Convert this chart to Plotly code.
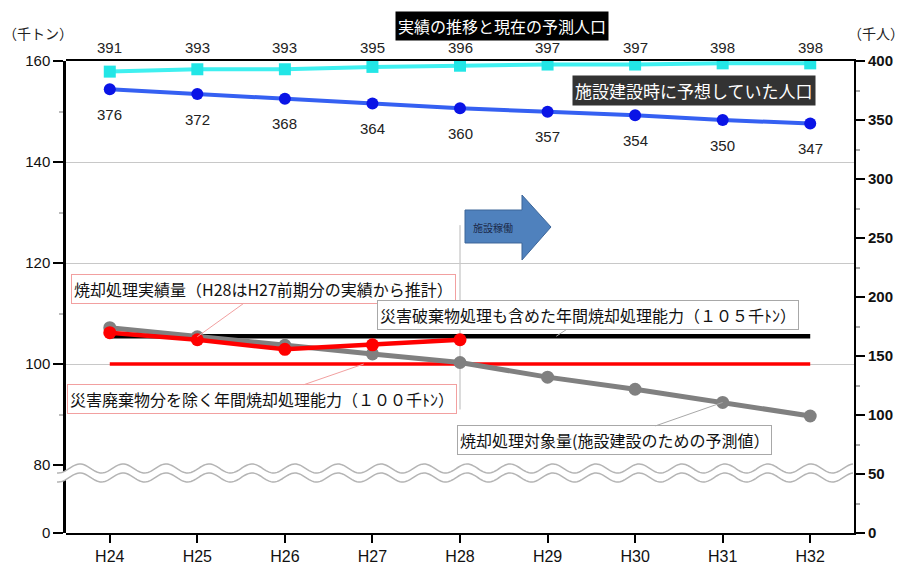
import numpy as np
import plotly.graph_objects as go

# ---------------- data ----------------
years = ["H24", "H25", "H26", "H27", "H28", "H29", "H30", "H31", "H32"]
pop_actual = [391, 393, 393, 395, 396, 397, 397, 398, 398]          # 千人 (right axis)
pop_planned = [376, 372, 368, 364, 360, 357, 354, 350, 347]         # 千人 (right axis)
incin_target = [107.2, 105.4, 103.7, 102.0, 100.3, 97.4, 95.0, 92.4, 89.7]   # 千トン
incin_actual_years = ["H24", "H25", "H26", "H27", "H28"]
incin_actual = [106.2, 104.8, 102.9, 103.8, 104.8]                  # 千トン
cap_with_disaster = [105.5, 105.5, 105.5, 105.5, 105.5, 105.5, 105.5, 105.5, 105.5]
cap_without = [100, 100, 100, 100, 100, 100, 100, 100, 100]

# ---------------- geometry helpers ----------------
W, H = 906, 567
L, R, T, B = 66, 52, 61, 34
PW, PH = W - L - R, H - T - B


def xp(px):
    return (px - L) / PW


def yp(py):
    return (H - B - py) / PH


brk = yp(465)  # paper position of the axis break (80 千トン)

JP = "Noto Sans CJK JP"
NUM = "Liberation Sans, Arial, Noto Sans CJK JP"

fig = go.Figure()

# population (right axis)
fig.add_trace(go.Scatter(x=years, y=pop_actual, yaxis="y", mode="lines+markers",
                         line=dict(color="#3ff0f0", width=4),
                         marker=dict(symbol="square", size=12, color="#22e6e6"),
                         showlegend=False))
fig.add_trace(go.Scatter(x=years, y=pop_planned, yaxis="y", mode="lines+markers",
                         line=dict(color="#3560f2", width=4),
                         marker=dict(symbol="circle", size=12, color="#0a14e6"),
                         showlegend=False))

# tonnage (left axis, upper segment)
fig.add_trace(go.Scatter(x=years, y=cap_with_disaster, yaxis="y2", mode="lines",
                         line=dict(color="#000000", width=4.5), showlegend=False))
fig.add_trace(go.Scatter(x=years, y=cap_without, yaxis="y2", mode="lines",
                         line=dict(color="#ff0000", width=3.5), showlegend=False))
fig.add_trace(go.Scatter(x=years, y=incin_target, yaxis="y2", mode="lines+markers",
                         line=dict(color="#808080", width=5),
                         marker=dict(symbol="circle", size=13, color="#808080"),
                         showlegend=False))
fig.add_trace(go.Scatter(x=incin_actual_years, y=incin_actual, yaxis="y2", mode="lines+markers",
                         line=dict(color="#ff0000", width=4.5),
                         marker=dict(symbol="circle", size=13, color="#ff0000"),
                         showlegend=False))
# lower (0-80) segment of the broken left axis
fig.add_trace(go.Scatter(x=[], y=[], yaxis="y3", showlegend=False))

annotations = []
# actual-population labels sit in a row above the plot area
for yr, v in zip(years, pop_actual):
    annotations.append(dict(x=yr, y=yp(48), xref="x", yref="paper", text=str(v), showarrow=False,
                            yanchor="middle", font=dict(family=NUM, size=15, color="#222")))
for yr, v in zip(years, pop_planned):
    annotations.append(dict(x=yr, y=v, xref="x", yref="y", text=str(v), showarrow=False,
                            yshift=-25, font=dict(family=NUM, size=15, color="#222")))

# callout boxes with leader lines
callouts = [
    ("焼却処理実績量（H28はH27前期分の実績から推計）", 1, 105.4, 1.761, 114.9, "#f2a0a0"),
    ("災害破棄物処理も含めた年間焼却処理能力（１０５千ﾄﾝ）", 5.1, 105.5, 5.462, 109.65, "#a8a8a8"),
    ("災害廃棄物分を除く年間焼却処理能力（１００千ﾄﾝ）", 2.9, 100.0, 1.738, 93.03, "#f2a0a0"),
    ("焼却処理対象量(施設建設のための予測値）", 7, 92.4, 5.759, 84.88, "#a8a8a8"),
]
for text, hx, hy, tx, ty, col in callouts:
    annotations.append(dict(x=hx, y=hy, xref="x", yref="y2", ax=tx, ay=ty, axref="x", ayref="y2",
                            text=text, showarrow=True, arrowhead=0, arrowwidth=1, arrowcolor=col,
                            bordercolor=col, borderwidth=1, borderpad=2, bgcolor="white",
                            font=dict(family=JP, size=16, color="#111")))

# titles
common = dict(xref="paper", yref="paper", showarrow=False, xanchor="center", yanchor="middle")
annotations.append(dict(x=xp(502), y=yp(26), text="実績の推移と現在の予測人口",
                        bgcolor="#000000", borderpad=2,
                        font=dict(family=JP, size=16, color="white"), **common))
annotations.append(dict(x=xp(694), y=yp(90.5), text="施設建設時に予想していた人口",
                        bgcolor="#333333", borderpad=2,
                        font=dict(family=JP, size=17, color="white"), **common))
annotations.append(dict(x=xp(38), y=yp(33), text="（千トン）",
                        font=dict(family=JP, size=14, color="#222"), **common))
annotations.append(dict(x=xp(876), y=yp(33), text="（千人）",
                        font=dict(family=JP, size=14, color="#222"), **common))
annotations.append(dict(x=xp(493), y=yp(228), text="施設稼働",
                        font=dict(family=JP, size=10, color="#1b2a4a"), **common))

shapes = []
# vertical marker at H28
shapes.append(dict(type="line", xref="x", yref="y2", x0=4, x1=4, y0=91, y1=127.5,
                   line=dict(color="#b8b8b8", width=1), layer="below"))
# block arrow 施設稼働
pts = [(465, 210), (522, 210), (522, 195), (551, 227), (522, 260), (522, 243), (465, 243)]
path = "M " + " L ".join(f"{xp(a):.5f},{yp(b):.5f}" for a, b in pts) + " Z"
shapes.append(dict(type="path", xref="paper", yref="paper", path=path,
                   fillcolor="#4f81bd", line=dict(color="#3d6699", width=1), layer="above"))

# wavy axis-break band
pxs = np.linspace(57, 853, 500)
top = 468.5 - 4.5 * np.cos(2 * np.pi * (pxs - 80) / 43)
bot = top + 9
band = "M " + " L ".join(f"{xp(a):.5f},{yp(b):.5f}" for a, b in zip(pxs, top))
band += " L " + " L ".join(f"{xp(a):.5f},{yp(b):.5f}" for a, b in zip(pxs[::-1], bot[::-1])) + " Z"
shapes.append(dict(type="path", xref="paper", yref="paper", path=band,
                   fillcolor="white", line=dict(width=0), layer="above"))
for wave in (top, bot):
    wp = "M " + " L ".join(f"{xp(a):.5f},{yp(b):.5f}" for a, b in zip(pxs, wave))
    shapes.append(dict(type="path", xref="paper", yref="paper", path=wp,
                       line=dict(color="#b4b4b4", width=1.5), layer="above"))

fig.update_layout(
    width=W, height=H,
    margin=dict(l=L, r=R, t=T, b=B, autoexpand=False),
    paper_bgcolor="white", plot_bgcolor="rgba(0,0,0,0)",
    showlegend=False,
    xaxis=dict(type="category", range=[-0.5, 8.5], anchor="y", showline=True, linecolor="black",
               linewidth=2, mirror=True, ticks="outside", ticklen=8, tickwidth=2, tickcolor="black",
               tickfont=dict(family="Liberation Sans Narrow, Liberation Sans, Arial", size=16, color="#111"),
               showgrid=False, zeroline=False, automargin=False),
    yaxis=dict(domain=[0, 1], range=[0, 400], side="right", anchor="x", showline=True,
               linecolor="black", linewidth=2, ticks="outside", ticklen=9, tickwidth=2,
               tickcolor="black", dtick=50, showgrid=False, zeroline=False,
               tickfont=dict(family=NUM, size=15, color="#111", weight="bold"),
               minor=dict(dtick=25, ticks="outside", ticklen=4, tickcolor="#aaaaaa", showgrid=False),
               automargin=False),
    yaxis2=dict(domain=[brk, 1], range=[80, 160], side="left", anchor="x", showline=True,
                linecolor="black", linewidth=2.5, ticks="outside", ticklen=10, tickwidth=2,
                tickcolor="black", dtick=20, showgrid=True, gridcolor="#c8c8c8", gridwidth=1,
                zeroline=False, tickfont=dict(family=NUM, size=15, color="#111"),
                minor=dict(dtick=10, ticks="outside", ticklen=4, tickcolor="#bbbbbb", showgrid=False),
                automargin=False),
    yaxis3=dict(domain=[0, brk], range=[0, 80], side="left", anchor="x", showline=True,
                linecolor="black", linewidth=2.5, ticks="outside", ticklen=10, tickwidth=2,
                tickcolor="black", tickvals=[0], showgrid=False, zeroline=False,
                tickfont=dict(family=NUM, size=15, color="#111"), automargin=False),
    annotations=annotations,
    shapes=shapes,
)

fig.write_html("out.html")
